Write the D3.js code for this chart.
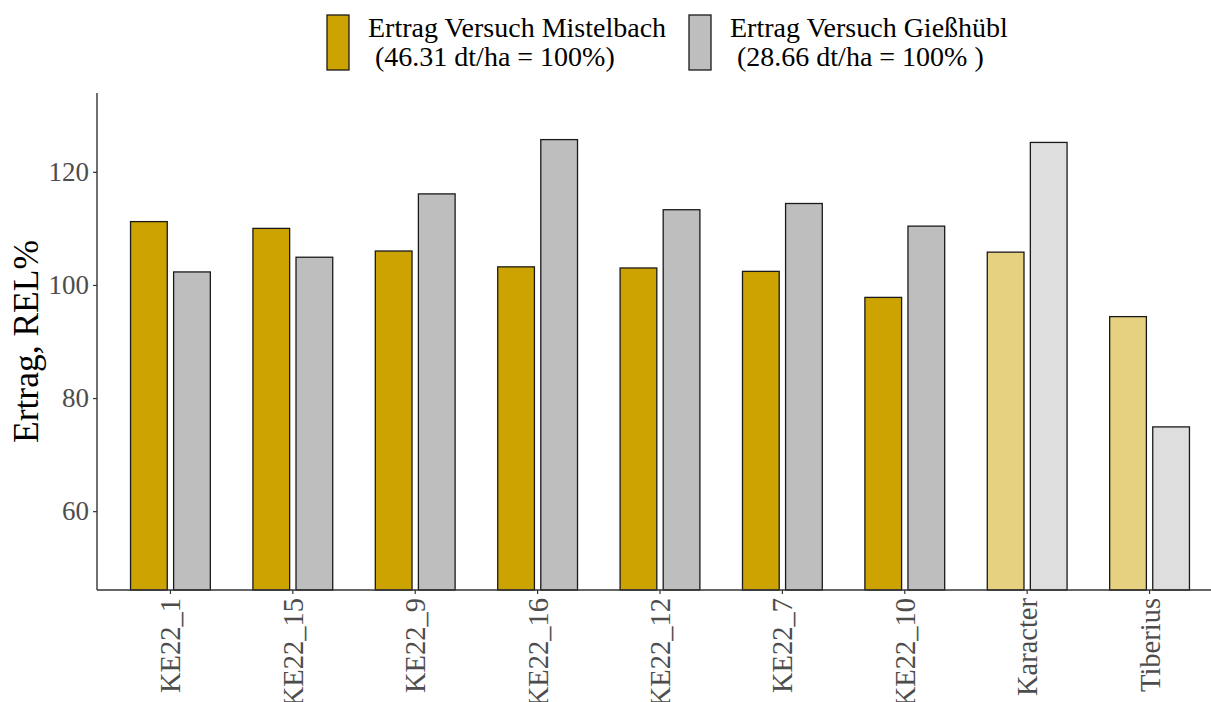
<!DOCTYPE html>
<html>
<head>
<meta charset="utf-8">
<script src="https://cdn.jsdelivr.net/npm/d3@7"></script>
<style>
  html, body { margin: 0; padding: 0; background: #fff; }
  svg, svg text { font-family: "Liberation Serif", "Times New Roman", serif !important; }
  svg { display: block; }
</style>
</head>
<body>
<svg id="chart" width="1211" height="702"></svg>
<script>
// Relative yield (REL %) per line at two trial sites
const categories = ["KE22_1", "KE22_15", "KE22_9", "KE22_16", "KE22_12", "KE22_7", "KE22_10", "Karacter", "Tiberius"];
const mistelbach = [111.2, 110.0, 106.0, 103.2, 103.0, 102.4, 97.8, 105.8, 94.4];
const giesshuebl = [102.3, 104.9, 116.1, 125.7, 113.3, 114.4, 110.4, 125.2, 74.9];
const checkVarieties = ["Karacter", "Tiberius"];
const seriesNames = ["Ertrag Versuch Mistelbach", "Ertrag Versuch Gießhübl"];
const seriesSub = [" (46.31 dt/ha = 100%)", " (28.66 dt/ha = 100% )"];
const yTicks = [60, 80, 100, 120];

const colors = {
  m: "#CCA300", mLight: "#E5D180",
  g: "#BEBEBE", gLight: "#DEDEDE"
};

const svg = d3.select("#chart");
const plotLeft = 97, plotBottom = 590, plotTop = 93, plotRight = 1223;

const x = d3.scaleBand().domain(categories).range([plotLeft, plotRight]).paddingInner(0).paddingOuter(0.1);
const y = d3.scaleLinear().domain([46.06, 133.94]).range([plotBottom, plotTop]);
const dodge = d3.scalePoint().domain(["m", "g"]).range([-0.176, 0.176]);
const barW = x.bandwidth() * 0.3;

const rows = [];
categories.forEach((c, i) => {
  const check = checkVarieties.includes(c);
  rows.push({ cat: c, key: "m", v: mistelbach[i], fill: check ? colors.mLight : colors.m });
  rows.push({ cat: c, key: "g", v: giesshuebl[i], fill: check ? colors.gLight : colors.g });
});

// bars
svg.append("g").selectAll("rect").data(rows).join("rect")
  .attr("x", d => x(d.cat) + x.bandwidth() / 2 + dodge(d.key) * x.bandwidth() - barW / 2)
  .attr("width", barW)
  .attr("y", d => y(d.v))
  .attr("height", d => y(y.domain()[0]) - y(d.v))
  .attr("fill", d => d.fill)
  .attr("stroke", "#1a1a1a")
  .attr("stroke-width", 1.3);

// y axis
const yAxis = svg.append("g").attr("transform", `translate(${plotLeft},0)`)
  .call(d3.axisLeft(y).tickValues(yTicks).tickSize(4).tickPadding(4));
yAxis.select(".domain").attr("d", `M0,${plotTop}V${plotBottom}`).attr("stroke", "#333").attr("stroke-width", 1.4);
yAxis.selectAll(".tick line").attr("stroke", "#333").attr("stroke-width", 1.2);
yAxis.selectAll(".tick text").attr("font-size", 27).attr("fill", "#4D4D4D");

// x axis
const xAxis = svg.append("g").attr("transform", `translate(0,${plotBottom})`)
  .call(d3.axisBottom(x).tickSize(4).tickPadding(0));
xAxis.select(".domain").attr("d", `M${plotLeft},0H1211`).attr("stroke", "#333").attr("stroke-width", 1.4);
xAxis.selectAll(".tick line").attr("stroke", "#333").attr("stroke-width", 1.2);
xAxis.selectAll(".tick text")
  .attr("font-size", 28.5).attr("fill", "#4D4D4D")
  .attr("text-anchor", "end")
  .attr("transform", "translate(0,8) rotate(-90)")
  .attr("x", 0).attr("y", 0).attr("dy", "0.35em");

// y axis title
svg.append("text")
  .attr("transform", `translate(38,${(plotTop + plotBottom) / 2}) rotate(-90)`)
  .attr("text-anchor", "middle")
  .attr("font-size", 35.5)
  .attr("fill", "#000")
  .text("Ertrag, REL%");

// legend
const legendX = [327, 689];
const legendFill = [colors.m, colors.g];
seriesNames.forEach((name, i) => {
  const g = svg.append("g").attr("transform", `translate(${legendX[i]},0)`);
  g.append("rect").attr("x", 0).attr("y", 15).attr("width", 22).attr("height", 55)
    .attr("fill", legendFill[i]).attr("stroke", "#1a1a1a").attr("stroke-width", 1.3);
  const t = g.append("text").attr("font-size", 28).attr("fill", "#000").style("white-space", "pre");
  t.append("tspan").attr("x", 41).attr("y", 37).text(name);
  t.append("tspan").attr("x", 41).attr("y", 66).text(seriesSub[i]);
});
</script>
</body>
</html>
